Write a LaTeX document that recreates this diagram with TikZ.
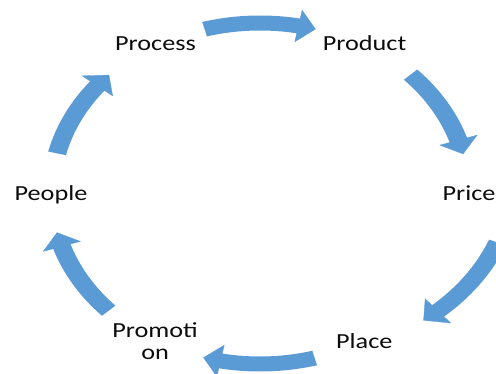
\documentclass[tikz,border=0pt]{standalone}
\usepackage{fontspec}
\setmainfont{Carlito}
\definecolor{cycleblue}{RGB}{91,155,213}
\definecolor{labelink}{RGB}{12,12,12}
\begin{document}
\begin{tikzpicture}[x=1pt,y=1pt,
  lbl/.style={font=\fontsize{21.5}{22.3}\selectfont, text=labelink, inner sep=0pt, anchor=base},
  shaft/.style={draw=cycleblue, line width=15pt},
  head/.style={fill=cycleblue, draw=cycleblue, line width=0.3pt, line join=miter}]
\useasboundingbox (-260,-181) rectangle (236,193);
\begin{scope}[transform canvas={xscale=1.22}]
  % labels
  \node[lbl] (process) at (-85.7,142) {Process};
  \node[lbl] (product) at (85.7,142) {Product};
  \node[lbl] (price) at (171.3,-7.3) {Price};
  \node[lbl] (place) at (85.5,-156) {Place};
  \node[lbl] (promotion) at (-86,-144.7) {\begin{tabular}[t]{@{}c@{}}Promoti\\on\end{tabular}};
  \node[lbl] (people) at (-171.3,-7.3) {People};
  % circular block arrows: start angle / tip angle / radius / centre
  \foreach \n/\s/\e/\r/\cx/\cy in {1/105.5/74.5/170/0/0, 2/43.8/13.2/171/0/0,
      3/-22/-53.8/180/27.8/17.9, 4/-74.8/-105.7/171/0/0,
      5/-136.5/-166.6/171/0/0, 6/166.6/136.4/171/0/0}{
    \begin{scope}[shift={(\cx,\cy)}]
      \coordinate (a\n s) at (\s:\r);
      \coordinate (a\n t) at (\e:\r);
      \coordinate (a\n u) at ({\e+4.8}:{\r+16});
      \coordinate (a\n v) at ({\e+4.8}:{\r-16});
      \draw[shaft] (a\n s) arc[start angle=\s, end angle={\e+4.3}, radius=\r];
      \path[head] (a\n u) -- (a\n t) -- (a\n v) -- cycle;
    \end{scope}
  }
\end{scope}
\end{tikzpicture}
\end{document}
